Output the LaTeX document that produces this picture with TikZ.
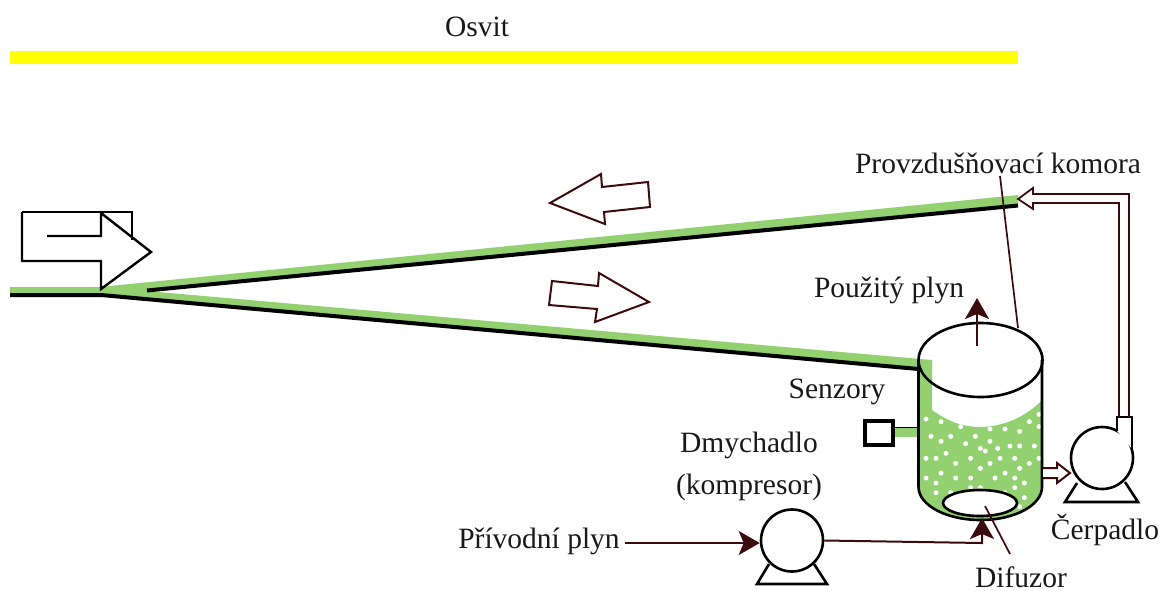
\documentclass[tikz,border=0pt]{standalone}
\usepackage{fontspec}
\setmainfont{Liberation Serif}
\usetikzlibrary{arrows.meta}
\definecolor{algae}{RGB}{146,208,112}
\definecolor{maroon}{RGB}{58,12,14}
\definecolor{lightbar}{RGB}{255,255,0}
\tikzset{
 label/.style={font=\fontsize{29.5}{32}\selectfont,text=black!90,inner sep=0pt},
 vessel/.style={draw=black,line width=2.6pt},
 thinblack/.style={draw=black,line width=2.4pt,line join=miter},
 pipe/.style={draw=maroon,line width=1.8pt,line join=miter},
 flow/.style={draw=maroon,line width=2pt,-{Stealth[length=21pt,width=24pt,inset=5pt]}},
 leader/.style={draw=maroon,line width=1.7pt},
 pumpbody/.style={circle,draw=black,line width=2.6pt,fill=white,minimum size=62pt,inner sep=0pt},
 hollow/.style={draw=maroon,line width=2pt,line join=miter,fill=white}
}
\begin{document}
\begin{tikzpicture}[x=1pt,y=-1pt]
\useasboundingbox (0,0) rectangle (1161,590);
% light
\node[label] (osvit) at (477,27) {Osvit};
\fill[lightbar] (10,51) rectangle (1018,64);
% channel
\fill[algae] (10,287) -- (100,287) -- (1018,195) -- (1018,204) -- (147,291) -- (932,360) -- (932,372) -- (100,294) -- (10,294) -- cycle;
\draw[black,line width=4pt] (147,290.5) -- (1018,205.5);
\draw[black,line width=4pt] (10,295) -- (101,295) -- (918.5,369);
% big white arrow
\draw[thinblack] (101,212) -- (132,212) -- (132,240);
\draw[thinblack] (22,212) -- (101,212);
\draw[thinblack] (22,212) -- (22,261) -- (101,261) -- (101,289) -- (151,252) -- (101,213) -- (101,236) -- (47,236);
% small arrows
\draw[hollow] (550,203) -- (601,174) -- (602,187) -- (648,182) -- (650,207) -- (604,212) -- (605,224) -- cycle;
\draw[hollow] (552,281) -- (598,286) -- (599,273) -- (649,302) -- (595,322) -- (597,309) -- (549,305) -- cycle;
% vessel contents
\fill[algae] (918.5,360) -- (932,361) -- (932,410) .. controls (950,423) and (965,427) .. (980,427) .. controls (1005,427) and (1028,415) .. (1042,400) -- (1042,487) .. controls (1042,505) and (1015,520) .. (980.5,520) .. controls (946,520) and (918.5,505) .. (918.5,487) -- cycle;
\foreach \a/\b in {258/357,303/365,362/380,450/387,495/387,568/365,597/343,597/380,539/394,273/409,332/409,406/409,303/424,450/424,377/431,421/445,436/453,473/445,510/438,539/438,583/438,318/460,258/475,288/475,347/490,392/475,480/475,450/490,524/475,568/490,597/475,421/505,539/505,303/519,495/519,258/534,347/534,392/534,465/534,524/534,288/549,553/549,392/563,421/563,288/578,332/578,524/563,553/593,495/578,539/620}
  \fill[white] ({840+\a/3},{300+\b/3}) circle (2.5);
% vessel
\draw[vessel] (980.5,360) ellipse [x radius=62, y radius=37];
\draw[vessel] (918.5,360) -- (918.5,487) .. controls (918.5,505) and (946,520) .. (980.5,520) .. controls (1015,520) and (1042,505) .. (1042,487) -- (1042,360);
\draw[vessel,fill=white] (980,503) ellipse [x radius=37, y radius=13];
% sensor
\fill[algae] (895,428) rectangle (917,437);
\draw[black,line width=1.2pt] (895,427.5) -- (917,427.5);
\draw[black,line width=4pt] (865,421) rectangle (893,445);
% compressor
\draw[vessel,line join=miter,fill=white] (769,564) -- (757,584) -- (827,584) -- (814,564);
\node[pumpbody] (blower) at (792,540.5) {};
% pump
\draw[vessel,line join=miter,fill=white] (1077,483) -- (1065,502) -- (1138,502) -- (1125,482);
\node[pumpbody] (pump) at (1102,458) {};
\draw[vessel,line join=miter,fill=white] (1117,431) -- (1117,417) -- (1132,417) -- (1132,449);
% connectors
\coordinate (intake) at (625,543);
\coordinate (spargerin) at (982,518);
\coordinate (vesseltop) at (977,346);
\coordinate (gasout) at (977,298);
\node[label] (privod) at (539,541) {Přívodní plyn};
\node[label] (kompr1) at (749,445) {Dmychadlo};
\node[label] (kompr2) at (749,487) {(kompresor)};
\node[label] (senzory) at (837,392) {Senzory};
\node[label] (pouzity) at (889,290) {Použitý plyn};
\node[label] (komora) at (998,163) {Provzdušňovací komora};
\node[label] (cerpadlo) at (1105,530) {Čerpadlo};
\node[label] (difuzor) at (1021,577) {Difuzor};
\draw[flow] (intake) -- (intake -| blower.west);
\draw[flow] (blower.east) -- (982,543) -- (spargerin);
\draw[flow] (vesseltop) -- (gasout);
\coordinate (komoraleader) at (1000,176);
\coordinate (komoraend) at (1018,328);
\draw[leader] (komoraleader) -- (komoraend);
\coordinate (difstart) at (985,506);
\coordinate (difend) at (1010,554);
\draw[leader] (difstart) -- (difend);
\draw[pipe] (1129,417) -- (1129,194) -- (1033,194) -- (1033,188) -- (1018,199) -- (1033,209) -- (1033,203) -- (1119,203) -- (1119,417);
\draw[hollow] (1043,468) -- (1057,468) -- (1057,463) -- (1070,473) -- (1057,483) -- (1057,478) -- (1043,478);
\end{tikzpicture}
\end{document}
